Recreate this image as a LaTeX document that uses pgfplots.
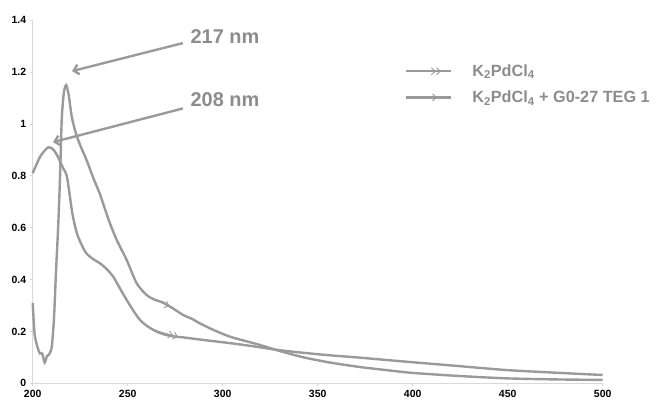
\documentclass[border=0pt]{standalone}
\usepackage{pgfplots}
\pgfplotsset{compat=1.18}
\usepackage{fontspec}
\setmainfont{Liberation Sans}
\setsansfont{Liberation Sans}
\usetikzlibrary{arrows.meta}
\definecolor{curve}{HTML}{9A9A9A}
\definecolor{txt}{HTML}{8C8C8C}
\definecolor{axl}{HTML}{D9D9D9}
\begin{document}
\begin{tikzpicture}
\path[use as bounding box] (0,0) rectangle (656bp,405bp);
\begin{axis}[
  at={(32.7bp,21.7bp)}, anchor=south west,
  scale only axis, width=570bp, height=363bp,
  xmin=200, xmax=500, ymin=0, ymax=1.4,
  axis x line*=bottom, axis y line*=left,
  axis line style={axl, line width=0.8bp, -},
  xtick={200,250,...,500}, ytick={0,0.2,...,1.4},
  tick style={axl, line width=0.8bp},
  tick align=outside, major tick length=3bp,
  /pgf/number format/assume math mode=true,
  yticklabel style={/pgf/number format/.cd, fixed, precision=1},
  ticklabel style={font=\fontsize{10.5}{12}\selectfont\bfseries, text=black},
  clip=false,
  legend style={draw=none, fill=none, at={(0.653,0.878)}, anchor=north west,
    font=\fontsize{16.3}{18}\selectfont\bfseries, text=txt, row sep=13bp,
    inner sep=0pt, outer sep=0pt, nodes={inner sep=0pt},
    /tikz/every odd column/.append style={column sep=20bp}},
  legend cell align=left,
]
% K2PdCl4 (peak 208 nm)
\addplot[curve, line width=2.4bp, smooth, tension=0.5,
  legend image code/.code={
    \draw[curve, line width=2.4bp] (0bp,0bp) -- (45bp,0bp);
    \draw[curve, line width=0.9bp, -{Straight Barb[length=4bp,width=7bp] Straight Barb[length=4bp,width=7bp]}] (10bp,0bp) -- (35bp,0bp);
  }] coordinates {
(200,0.81) (204,0.875) (208.2,0.91) (211,0.90) (213.5,0.87) (216,0.83) (217.9,0.80) (219.6,0.72)
(221,0.65) (223.2,0.58) (226,0.53) (228.4,0.50) (232,0.478) (235.4,0.463) (239,0.44) (242.4,0.411)
(246,0.365) (249.5,0.321) (253,0.28) (256.5,0.244) (260,0.222) (263.5,0.206) (267,0.194) (270.5,0.186)
(275,0.18) (279.3,0.177) (290,0.167) (303.8,0.155) (312,0.147) (319.6,0.139) (328.4,0.129) (342,0.118) (356.5,0.108)
(372,0.099) (386,0.09) (400.3,0.081) (425,0.066) (449.5,0.051) (475,0.041) (500,0.032)
};
\addlegendentry{K\textsubscript{2}PdCl\textsubscript{4}}
% K2PdCl4 + G0-27 TEG 1 (peak 217 nm)
\addplot[curve, line width=2.4bp, smooth, tension=0.45,
  legend image code/.code={
    \draw[curve, line width=2.4bp] (0bp,0bp) -- (45bp,0bp);
    \draw[curve, line width=0.9bp, -{Straight Barb[length=4bp,width=7bp]}] (10bp,0bp) -- (31bp,0bp);
  }] coordinates {
(200,0.31) (201,0.19) (202.5,0.14) (203.8,0.115) (205,0.115) (206.3,0.08) (207.5,0.105) (208.5,0.11)
(210,0.14) (211.2,0.25) (212.2,0.42) (213.5,0.62) (214.4,0.80) (215.3,1.02) (216.4,1.12) (217.6,1.15)
(219,1.11) (220.5,1.03) (222.5,0.97) (224.9,0.92) (228.4,0.86) (232,0.79) (235.4,0.73) (237.2,0.69)
(240.5,0.62) (244.2,0.553) (249.5,0.475) (254.7,0.386) (260,0.34) (264,0.323) (268.7,0.311)
(274,0.288) (279.3,0.263) (284,0.248) (288,0.231) (296,0.203) (303.8,0.18) (311,0.165) (319.6,0.148) (328.4,0.128)
(342,0.101) (356.5,0.08) (372,0.063) (386,0.051) (400,0.04) (425,0.028) (449.5,0.019) (475,0.015) (500,0.013)
};
\addlegendentry{K\textsubscript{2}PdCl\textsubscript{4} + G0-27 TEG 1}
% chevrons on curves
\addplot[curve, line width=0.9bp, forget plot,
  -{Straight Barb[length=4bp,width=7bp] Straight Barb[length=4bp,width=7bp]}]
  coordinates {(263.5,0.206) (276.5,0.179)};
\addplot[curve, line width=0.9bp, forget plot,
  -{Straight Barb[length=4bp,width=7bp]}]
  coordinates {(264,0.323) (272,0.297)};
% annotations
\draw[curve, line width=2.4bp, -{Straight Barb[length=5bp,width=10bp]}] (axis cs:279,1.312) -- (axis cs:220.7,1.204);
\draw[curve, line width=2.4bp, -{Straight Barb[length=5bp,width=10bp]}] (axis cs:279,1.06) -- (axis cs:210.7,0.93);
\node[anchor=west, text=txt, font=\fontsize{20}{22}\selectfont\bfseries, inner sep=0pt] at (axis cs:283,1.336) {217 nm};
\node[anchor=west, text=txt, font=\fontsize{20}{22}\selectfont\bfseries, inner sep=0pt] at (axis cs:283,1.093) {208 nm};
\end{axis}
\end{tikzpicture}
\end{document}
